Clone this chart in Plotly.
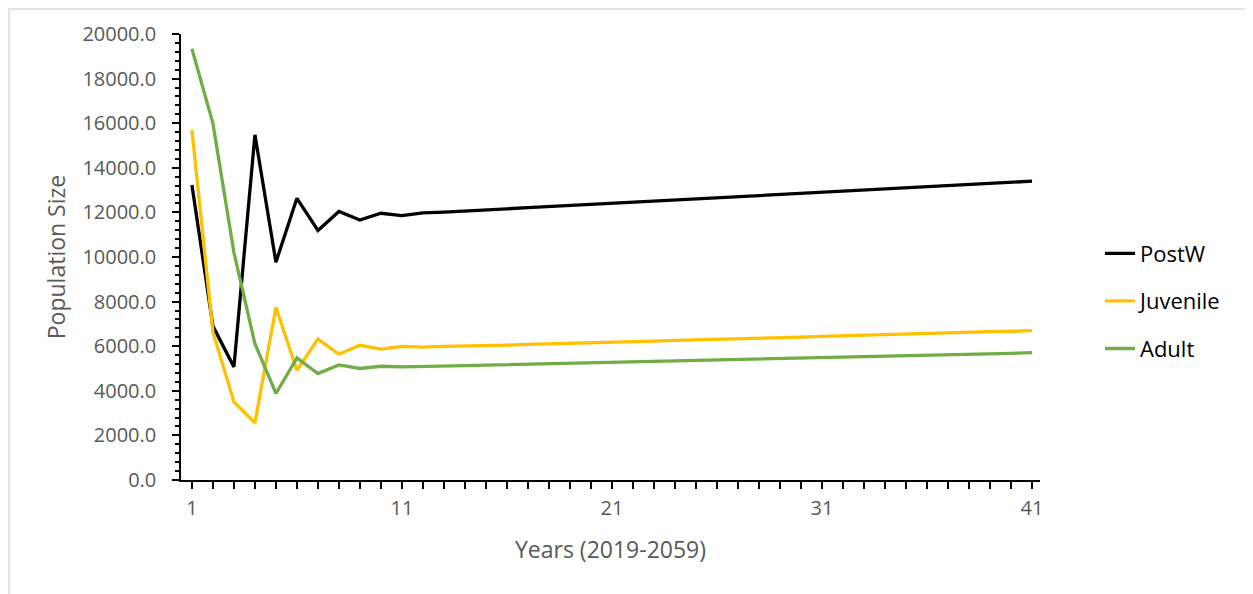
import plotly.graph_objects as go

years = list(range(1, 42))

postw = [13230, 6900, 5070, 15480, 9770, 12630, 11190, 12040, 11660, 11960,
         11860, 11980, 12010, 12070, 12120, 12160, 12210, 12260, 12310, 12360,
         12400, 12450, 12500, 12550, 12600, 12650, 12700, 12750, 12800, 12850,
         12900, 12950, 13000, 13050, 13100, 13150, 13200, 13250, 13300, 13350,
         13400]

juvenile = [15700, 6640, 3500, 2560, 7750, 4920, 6320, 5640, 6040, 5870,
            5990, 5960, 5990, 6000, 6030, 6050, 6080, 6100, 6130, 6150,
            6180, 6200, 6230, 6260, 6280, 6310, 6340, 6360, 6390, 6410,
            6440, 6470, 6490, 6520, 6540, 6570, 6600, 6620, 6650, 6670,
            6700]

adult = [19340, 15990, 10200, 6110, 3880, 5470, 4770, 5160, 5000, 5100,
         5070, 5100, 5110, 5130, 5150, 5170, 5190, 5210, 5230, 5250,
         5270, 5290, 5310, 5330, 5350, 5380, 5400, 5420, 5440, 5460,
         5480, 5500, 5520, 5540, 5570, 5590, 5610, 5630, 5650, 5680,
         5710]

x_tickvals = [1, 11, 21, 31, 41]
y_tickvals = list(range(0, 20001, 2000))

series = [
    ("PostW", postw, "#000000"),
    ("Juvenile", juvenile, "#FFC000"),
    ("Adult", adult, "#70AD47"),
]

fig = go.Figure()
for name, vals, color in series:
    fig.add_trace(go.Scatter(
        x=years, y=vals, mode="lines", name=name,
        legendgroup=name,
        line=dict(color=color, width=3.3),
    ))

tick_font = dict(family="Open Sans, sans-serif", size=20, color="#595959")
title_font = dict(family="Open Sans, sans-serif", size=23, color="#595959")

# target page coordinates of the plot area (page has 8px body margin)
OFF = 8
L, R, T, B = 181, 1040, 34, 480
W, H = 1253, 594
pw, ph = R - L, B - T

fig.update_layout(
    width=W - OFF, height=H - OFF,
    margin=dict(l=L - OFF, r=W - R, t=T - OFF, b=H - B),
    paper_bgcolor="white", plot_bgcolor="white",
    showlegend=True,
    legend=dict(
        x=(1100 - L) / pw, y=(B - 301) / ph, xanchor="left", yanchor="middle",
        font=dict(family="Open Sans, sans-serif", size=22, color="#000000"),
        tracegroupgap=16,
        bgcolor="rgba(0,0,0,0)",
    ),
    xaxis=dict(
        range=[0.48, 41.38],
        tickvals=x_tickvals,
        ticktext=[str(v) for v in x_tickvals],
        ticks="outside", ticklen=7, tickcolor="#000000", tickwidth=1.5,
        minor=dict(dtick=1, tick0=1, ticks="outside", ticklen=7,
                   tickcolor="#000000", tickwidth=1.5, showgrid=False),
        showline=True, linecolor="#000000", linewidth=1.5,
        showgrid=False, zeroline=False,
        tickfont=tick_font,
        ticklabelstandoff=2,
        automargin=False,
        title=dict(text="Years (2019-2059)", font=title_font, standoff=22),
    ),
    yaxis=dict(
        range=[0, 20000],
        tickvals=y_tickvals,
        tickformat=".1f",
        ticks="outside", ticklen=7, tickcolor="#000000", tickwidth=1.5,
        minor=dict(dtick=400, tick0=0, ticks="outside", ticklen=4,
                   tickcolor="#000000", tickwidth=1.5, showgrid=False),
        showline=True, linecolor="#000000", linewidth=1.5,
        showgrid=False, zeroline=False,
        tickfont=tick_font,
        ticklabelstandoff=12,
        automargin=False,
        title=dict(text="Population Size", font=title_font, standoff=10),
    ),
    shapes=[dict(
        type="rect", xref="paper", yref="paper",
        x0=(OFF + 1 - L) / pw, x1=(1250 - L) / pw,
        y0=(B - 610) / ph, y1=(B - OFF - 1) / ph,
        line=dict(color="#D9D9D9", width=1.5), fillcolor="rgba(0,0,0,0)",
        layer="below",
    )],
)

fig.write_html("out.html")
